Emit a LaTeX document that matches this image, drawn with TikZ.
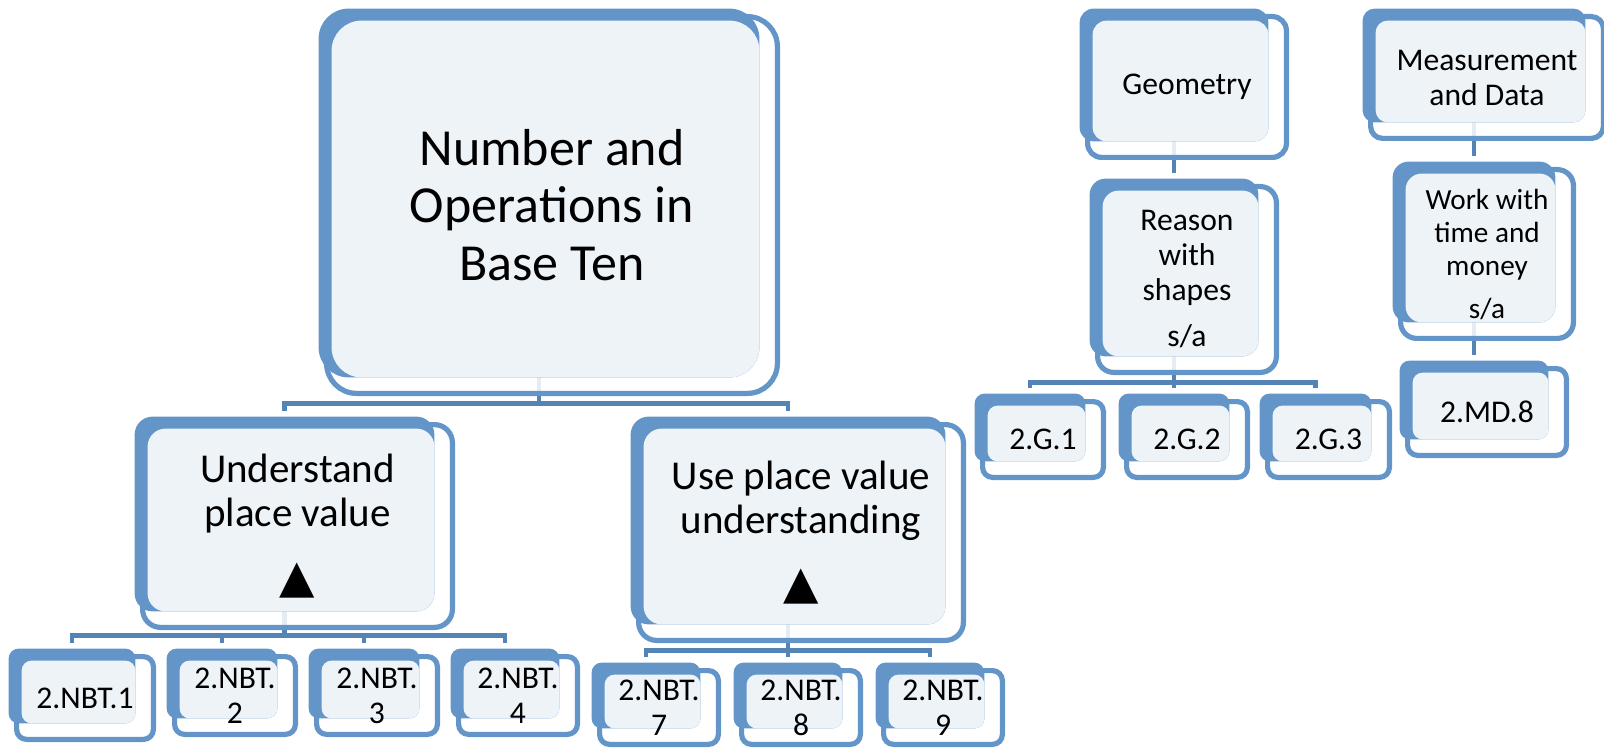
\documentclass[tikz,border=0pt]{standalone}
\usepackage{fontspec}
\setmainfont{Carlito}
\newfontfamily\symbolfont{DejaVu Sans}
\usetikzlibrary{calc,backgrounds}
\definecolor{cardblue}{RGB}{99,149,200}
\definecolor{cardlight}{RGB}{238,243,248}
\definecolor{linkblue}{RGB}{84,131,182}
\newcommand{\tri}{{\symbolfont\fontsize{23}{23}\selectfont ▲}}

\tikzset{
  card/.style 2 args={minimum width=#1, minimum height=#2, align=center, inner sep=0pt},
  big/.style={font=\fontsize{26}{28.75}\selectfont},
  mid/.style={font=\fontsize{20.5}{22}\selectfont},
  small/.style={font=\fontsize{15.8}{17.5}\selectfont},
  tiny/.style={font=\fontsize{14.6}{16.5}\selectfont},
  link/.style={draw=linkblue, line width=2.2pt},
}

\begin{document}
\begin{tikzpicture}[x=0.5pt, y=-0.5pt]
  \useasboundingbox (0,0) rectangle (1604,748);

  % number and operations
  \node[card={225pt}{188pt}, big] (nbt) at (552,205) {Number and\\Operations in\\Base Ten};
  \node[card={154.5pt}{101pt}, mid] (upv) at (297.5,526) {Understand\\place value\\[11pt]\tri};
  \node[card={162pt}{107.5pt}, mid] (upvu) at (801,532.5) {Use place value\\understanding\\[10.5pt]\tri};
  \node[card={68pt}{41pt}, small] (nbta) at (85,698) {2.NBT.1};
  \node[card={60pt}{38.5pt}, small] (nbtb) at (235,695.5) {2.NBT.\\2};
  \node[card={60pt}{38.5pt}, small] (nbtc) at (377,695.5) {2.NBT.\\3};
  \node[card={59pt}{38.5pt}, small] (nbtd) at (518,695.5) {2.NBT.\\4};
  \node[card={59pt}{36.5pt}, small] (nbtg) at (659,707.5) {2.NBT.\\7};
  \node[card={59pt}{36.5pt}, small] (nbth) at (801,707.5) {2.NBT.\\8};
  \node[card={59pt}{36.5pt}, small] (nbti) at (943,707.5) {2.NBT.\\9};

  % geometry
  \node[card={99pt}{70pt}, small] (geo) at (1187,87) {Geometry};
  \node[card={89pt}{92.5pt}, small] (shp) at (1187,279.5) {Reason\\with\\shapes\\[5.5pt]s/a};
  \node[card={60pt}{37.5pt}, small] (ga) at (1043,439.5) {2.G.1};
  \node[card={60pt}{37.5pt}, small] (gb) at (1187,439.5) {2.G.2};
  \node[card={60.5pt}{37.5pt}, small] (gc) at (1328.5,439.5) {2.G.3};

  % measurement and data
  \node[card={116pt}{60.5pt}, small] (md) at (1487,77.5) {Measurement\\and Data};
  \node[card={86pt}{84pt}, tiny] (tm) at (1487,254) {Work with\\time and\\money\\[5pt]s/a};
  \node[card={79pt}{43pt}, small] (mda) at (1487,412) {2.MD.8};

  \begin{scope}[on background layer]
    \foreach \c in {upv,upvu}
      \draw[link] ($(nbt.south)+(-13,-16)$) -- ++(0,26) -| ($(\c.north)+(-13,-14)$);
    \foreach \c in {nbta,nbtb,nbtc,nbtd}
      \draw[link] ($(upv.south)+(-13,-16)$) -- ++(0,24) -| ($(\c.north)+(-13,-14)$);
    \foreach \c in {nbtg,nbth,nbti}
      \draw[link] ($(upvu.south)+(-13,-16)$) -- ++(0,26) -| ($(\c.north)+(-13,-14)$);
    \foreach \c in {ga,gb,gc}
      \draw[link] ($(shp.south)+(-13,-16)$) -- ++(0,26) -| ($(\c.north)+(-13,-14)$);
    \draw[link] ($(geo.south)+(-13,-16)$) -- ($(shp.north)+(-13,-14)$);
    \draw[link] ($(md.south)+(-13,-16)$) -- ($(tm.north)+(-13,-14)$);
    \draw[link] ($(tm.south)+(-13,-16)$) -- ($(mda.north)+(-13,-14)$);

    % front frame, blue back, pale face
    \foreach \n/\r in {nbt/15pt, upv/9pt, upvu/9pt, nbta/5pt, nbtb/5pt, nbtc/5pt,
                       nbtd/5pt, nbtg/5pt, nbth/5pt, nbti/5pt, geo/7pt, shp/8pt,
                       ga/5pt, gb/5pt, gc/5pt, md/6pt, tm/8pt, mda/5pt} {
      \draw[cardblue, line width=2.6pt, fill=white, fill opacity=0.85, rounded corners=\r]
        (\n.north west) rectangle (\n.south east);
      \fill[cardblue, rounded corners=\r]
        ($(\n.north west)+(-8,-8)$) rectangle ($(\n.south east)+(-18,-16)$);
      \fill[cardlight, rounded corners=\r]
        ($(\n.north west)+(5,4)$) rectangle ($(\n.south east)+(-18,-16)$);
    }
  \end{scope}
\end{tikzpicture}
\end{document}
